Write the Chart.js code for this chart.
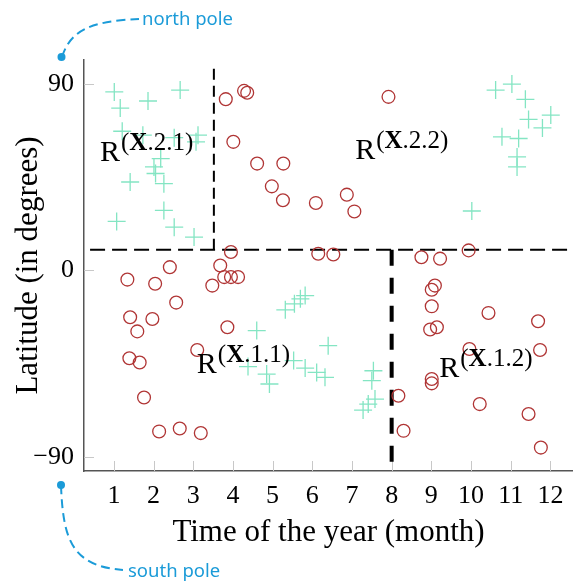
<!DOCTYPE html>
<html>
<head>
<meta charset="utf-8">
<script src="https://cdn.jsdelivr.net/npm/chart.js@4.4.0/dist/chart.umd.min.js"></script>
<style>
  html, body { margin: 0; padding: 0; background: #fff; }
  #wrap { width: 573px; height: 581px; }
</style>
</head>
<body>
<div id="wrap"><canvas id="chart" width="573" height="581"></canvas></div>
<script>
// observations: month of the year vs latitude, two classes
const plusMonth = [1.01, 1.16, 1.86, 2.67, 1.21, 1.73, 2.52, 3.12, 3.07, 2.18, 2.01, 2.05, 2.26, 1.41, 2.26, 1.07, 2.52, 3.02,
                   10.62, 11.03, 11.37, 11.45, 12.01, 11.80, 10.78, 11.20, 11.16, 11.16, 10.02,
                   5.32, 5.55, 5.70, 5.82, 4.60, 6.40, 4.38, 4.85, 4.92, 5.53, 5.82, 6.11, 6.32, 7.54, 7.50, 7.58, 7.41, 7.28];
const plusLat = [86.2, 78.4, 81.8, 87.1, 67.2, 65.3, 64.1, 65.3, 62.1, 54.0, 50.0, 46.8, 41.9, 42.7, 29.0, 23.7, 20.9, 16.1,
                 87.1, 90.0, 82.6, 72.9, 75.0, 68.8, 64.5, 63.7, 54.8, 50.0, 28.7,
                 -19.0, -16.1, -13.7, -12.1, -29.0, -36.3, -46.4, -50.0, -54.8, -43.5, -47.1, -49.2, -51.6, -48.4, -53.2, -62.1, -64.5, -67.4];

const circleMonth = [3.82, 4.28, 4.36, 4.01, 7.92, 4.61, 5.27, 4.98, 5.26, 6.09, 6.87, 7.06, 6.15, 6.53, 8.75, 9.22, 9.94, 3.95,
                     2.41, 3.68, 3.78, 3.95, 4.13, 3.48, 1.34, 2.04, 2.57, 1.41, 1.97, 1.59, 3.86, 3.10, 1.39, 1.65, 1.76, 2.14, 2.66, 3.19,
                     9.09, 9.01, 9.01, 10.44, 11.69, 8.97, 9.14, 9.96, 11.74, 9.01, 9.01, 10.22, 11.45, 11.76, 8.17, 8.30];
const circleLat = [82.7, 86.7, 85.8, 62.1, 83.8, 51.6, 51.6, 40.6, 33.9, 32.6, 36.6, 28.5, 8.1, 7.7, 6.4, 5.7, 9.7, 8.9,
                   1.6, 2.4, -3.2, -3.2, -3.2, -7.3, -4.4, -6.4, -15.5, -22.6, -23.4, -29.4, -27.4, -38.4, -42.4, -44.4, -61.3, -77.7, -76.3, -78.5,
                   -7.3, -9.3, -17.3, -20.5, -24.5, -28.5, -27.4, -37.9, -38.4, -52.4, -54.5, -64.5, -69.3, -85.5, -60.5, -77.4];

const monthTicks = [1, 2, 3, 4, 5, 6, 7, 8, 9, 10, 11, 12];
const latTicks = [-90, 0, 90];

// split thresholds of the tree
const latSplit = 10;
const monthSplitNorth = 3.52;
const monthSplitSouth = 8;

const regionNames = ['2.1', '2.2', '1.1', '1.2'];

const serif = '"Liberation Serif", "Times New Roman", serif';

function pairs(xs, ys) {
  return xs.map((v, i) => ({ x: v, y: ys[i] }));
}

function segment(ctx, x0, y0, x1, y1) {
  ctx.beginPath();
  ctx.moveTo(x0, y0);
  ctx.lineTo(x1, y1);
  ctx.stroke();
}

function regionLabel(ctx, px, py, name) {
  ctx.fillStyle = '#000';
  ctx.textAlign = 'left';
  ctx.textBaseline = 'alphabetic';
  ctx.font = '30px ' + serif;
  ctx.fillText('R', px, py);
  let cx = px + ctx.measureText('R').width + 1;
  const sy = py - 11;
  ctx.font = '25px ' + serif;
  ctx.fillText('(', cx, sy);
  cx += ctx.measureText('(').width;
  ctx.font = 'bold 25px ' + serif;
  ctx.fillText('X', cx, sy);
  cx += ctx.measureText('X').width;
  ctx.font = '25px ' + serif;
  ctx.fillText('.' + name + ')', cx, sy);
}

const overlay = {
  id: 'overlay',
  beforeDatasetsDraw(chart) {
    const { ctx, chartArea: a } = chart;
    const x = chart.scales.x, y = chart.scales.y;
    ctx.save();

    // short tick marks pointing into the plot
    ctx.strokeStyle = '#c8c8c8';
    ctx.lineWidth = 1;
    monthTicks.forEach(m => {
      const px = Math.round(x.getPixelForValue(m)) + 0.5;
      segment(ctx, px, a.bottom, px, a.bottom - 10);
    });
    latTicks.forEach(v => {
      const py = Math.round(y.getPixelForValue(v)) + 0.5;
      segment(ctx, a.left, py, a.left + 10, py);
    });

    // partition boundaries
    ctx.strokeStyle = '#000';
    const ys = y.getPixelForValue(latSplit);
    ctx.lineWidth = 2.2;
    ctx.setLineDash([15, 7]);
    segment(ctx, x.getPixelForValue(0.4), ys, a.right, ys);

    ctx.lineWidth = 2;
    ctx.setLineDash([11, 6]);
    const xn = x.getPixelForValue(monthSplitNorth);
    segment(ctx, xn, ys, xn, y.getPixelForValue(97.7));

    ctx.lineWidth = 4;
    ctx.setLineDash([16, 12]);
    const xs = x.getPixelForValue(monthSplitSouth);
    segment(ctx, xs, ys, xs, a.bottom);
    ctx.restore();
  },
  afterDatasetsDraw(chart) {
    const { ctx } = chart;
    const x = chart.scales.x, y = chart.scales.y;
    const anchors = [[0.65, 52.7], [7.08, 53.7], [3.09, -49.5], [9.20, -51.3]];
    ctx.save();
    regionNames.forEach((n, i) => {
      regionLabel(ctx, x.getPixelForValue(anchors[i][0]), y.getPixelForValue(anchors[i][1]), n);
    });
    ctx.restore();
  },
  afterDraw(chart) {
    const { ctx } = chart;
    const blue = '#1b9bd8';
    ctx.save();
    ctx.strokeStyle = blue;
    ctx.fillStyle = blue;
    ctx.lineWidth = 2;
    ctx.setLineDash([9, 5]);

    ctx.beginPath();
    ctx.moveTo(62, 57);
    ctx.bezierCurveTo(70, 32, 88, 21, 139, 19);
    ctx.stroke();

    ctx.beginPath();
    ctx.moveTo(61, 485);
    ctx.bezierCurveTo(63, 540, 72, 566, 123, 570);
    ctx.stroke();

    ctx.setLineDash([]);
    ctx.beginPath(); ctx.arc(61.5, 57, 4, 0, Math.PI * 2); ctx.fill();
    ctx.beginPath(); ctx.arc(61, 485, 4, 0, Math.PI * 2); ctx.fill();

    ctx.font = '18.5px "Noto Sans", sans-serif';
    ctx.textAlign = 'left';
    ctx.textBaseline = 'alphabetic';
    ctx.fillText('north pole', 142, 25);
    ctx.fillText('south pole', 128, 577);
    ctx.restore();
  }
};

new Chart(document.getElementById('chart'), {
  type: 'scatter',
  data: {
    datasets: [
      {
        label: 'class +',
        data: pairs(plusMonth, plusLat),
        pointStyle: 'cross',
        pointRadius: 9,
        pointHoverRadius: 9,
        borderColor: '#84e5c3',
        borderWidth: 1.3
      },
      {
        label: 'class o',
        data: pairs(circleMonth, circleLat),
        pointStyle: 'circle',
        pointRadius: 6.4,
        pointHoverRadius: 6.4,
        borderColor: '#b03535',
        backgroundColor: 'rgba(0,0,0,0)',
        borderWidth: 1.3
      }
    ]
  },
  options: {
    responsive: false,
    animation: false,
    layout: { autoPadding: false, padding: { top: 60, right: 0, bottom: 0, left: 0 } },
    plugins: {
      legend: { display: false },
      tooltip: { enabled: false }
    },
    scales: {
      x: {
        type: 'linear',
        min: 0.247,
        max: 12.57,
        afterBuildTicks: s => { s.ticks = monthTicks.map(v => ({ value: v })); },
        afterFit: s => { s.height = 110; s.paddingLeft = 0; s.paddingRight = 0; },
        grid: { display: false, drawTicks: false },
        border: { display: true, color: '#555', width: 1.5 },
        ticks: { color: '#000', padding: 10, font: { family: serif, size: 26 } },
        title: {
          display: true,
          text: 'Time of the year (month)',
          color: '#000',
          font: { family: serif, size: 31 },
          padding: { top: 0, bottom: 30 }
        }
      },
      y: {
        type: 'linear',
        min: -96.8,
        max: 101.6,
        afterBuildTicks: s => { s.ticks = latTicks.map(v => ({ value: v })); },
        afterFit: s => { s.width = 84; s.paddingTop = 0; s.paddingBottom = 0; },
        grid: { display: false, drawTicks: false },
        border: { display: true, color: '#555', width: 1.5 },
        ticks: {
          color: '#000',
          padding: 10,
          font: { family: serif, size: 26 },
          callback: v => v < 0 ? '\u2212' + Math.abs(v) : String(v)
        },
        title: {
          display: true,
          text: 'Latitude (in degrees)',
          color: '#000',
          font: { family: serif, size: 31 },
          padding: { top: 10, bottom: 0 }
        }
      }
    }
  },
  plugins: [overlay]
});
</script>
</body>
</html>
